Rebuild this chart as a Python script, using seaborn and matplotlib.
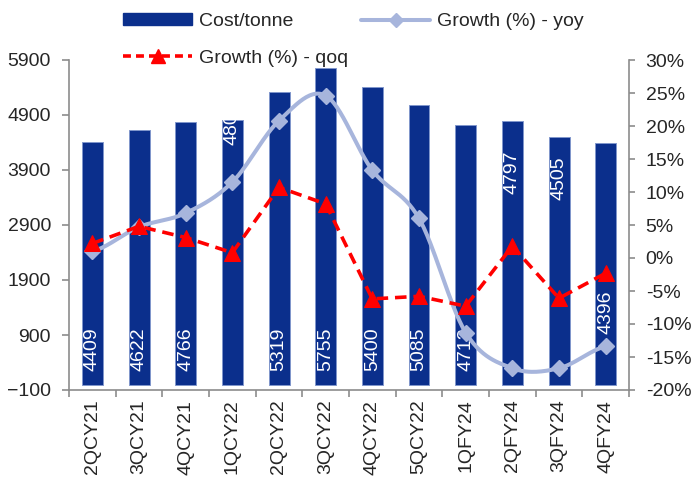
import numpy as np
import matplotlib
matplotlib.use("Agg")
import matplotlib.pyplot as plt
from matplotlib.lines import Line2D
from matplotlib.patches import Patch
from matplotlib.ticker import FixedLocator, FuncFormatter
import seaborn as sns

# Quarterly cost per tonne with year-on-year and quarter-on-quarter growth
quarters = ["2QCY21", "3QCY21", "4QCY21", "1QCY22", "2QCY22", "3QCY22",
            "4QCY22", "5QCY22", "1QFY24", "2QFY24", "3QFY24", "4QFY24"]
cost_per_tonne = [4409, 4622, 4766, 4805, 5319, 5755, 5400, 5085, 4713, 4797, 4505, 4396]
growth_yoy = [1.0, 4.7, 6.8, 11.5, 20.8, 24.6, 13.3, 6.0, -11.3, -16.7, -16.7, -13.4]
growth_qoq = [2.2, 4.8, 3.1, 0.8, 10.7, 8.2, -6.2, -5.8, -7.3, 1.8, -6.1, -2.3]

left_ticks = [-100, 900, 1900, 2900, 3900, 4900, 5900]
right_ticks = [-20, -15, -10, -5, 0, 5, 10, 15, 20, 25, 30]

# where each value label sits along its bar (left-axis units)
label_anchor = [640, 640, 640, 4760, 640, 640, 640, 640, 640, 3855, 3745, 1318]

BAR = "#0B2F8C"
BAR_EDGE = "#8096CC"
YOY = "#A7B5DC"
QOQ = "#FF0000"
SPINE = "#8C8C8C"

sns.set_style("white")
plt.rcParams["font.family"] = ["Liberation Sans", "DejaVu Sans"]
plt.rcParams["font.size"] = 14

fig = plt.figure(figsize=(6.94, 4.79), dpi=100)
ax = fig.add_axes([69 / 694, 89 / 479, 560 / 694, 330 / 479])
ax2 = ax.twinx()

sns.barplot(x=quarters, y=cost_per_tonne, ax=ax, color=BAR, saturation=1,
            width=0.45, edgecolor=BAR_EDGE, linewidth=0.7, zorder=2)

for i, (v, ly) in enumerate(zip(cost_per_tonne, label_anchor)):
    ax.text(i, ly, f"{v}", rotation=90, ha="center", va="center",
            color="white", fontsize=14, zorder=3)


def hermite_curve(values, steps=30):
    """Cardinal (Catmull-Rom) spline through the points, like a smoothed line."""
    y = np.asarray(values, dtype=float)
    n = len(y)
    m = np.empty(n)
    m[1:-1] = (y[2:] - y[:-2]) / 2
    m[0] = (y[1] - y[0]) / 2
    m[-1] = (y[-1] - y[-2]) / 2
    xs, ys = [], []
    t = np.linspace(0, 1, steps)
    h00 = 2 * t**3 - 3 * t**2 + 1
    h10 = t**3 - 2 * t**2 + t
    h01 = -2 * t**3 + 3 * t**2
    h11 = t**3 - t**2
    for i in range(n - 1):
        xs.append(i + t)
        ys.append(h00 * y[i] + h10 * m[i] + h01 * y[i + 1] + h11 * m[i + 1])
    return np.concatenate(xs), np.concatenate(ys)


pos = np.arange(len(quarters))
sx, sy = hermite_curve(growth_yoy)
ax2.plot(sx, sy, color=YOY, lw=2.9, solid_capstyle="round", zorder=3)
ax2.plot(pos, growth_yoy, ls="none", marker="D", ms=8, color=YOY,
         markeredgecolor=YOY, zorder=4)

sns.lineplot(x=pos, y=growth_qoq, ax=ax2, color=QOQ, lw=2.6,
             marker="^", markersize=11, markeredgecolor=QOQ,
             dashes=False, zorder=5)
qline = ax2.get_lines()[-1]
qline.set_linestyle((0, (3.2, 1.9)))

# axes ranges and ticks
ax.set_ylim(-100, 5900)
ax2.set_ylim(-20, 30)
ax.set_xlim(-0.5, len(quarters) - 0.5)
ax2.set_xlim(-0.5, len(quarters) - 0.5)

ax.yaxis.set_major_locator(FixedLocator(left_ticks))
ax2.yaxis.set_major_locator(FixedLocator(right_ticks))
ax2.yaxis.set_major_formatter(FuncFormatter(lambda v, _: f"{v:.0f}%"))

ax.set_xticks(pos)
ax.set_xticklabels(quarters, rotation=90, fontsize=14)
ax.xaxis.set_minor_locator(FixedLocator(np.arange(-0.5, len(quarters), 1.0)))
ax.tick_params(axis="x", which="major", length=0, pad=7)
ax.tick_params(axis="x", which="minor", length=5, width=1.2, color=SPINE,
               direction="out", bottom=True)
ax.tick_params(axis="y", length=5, width=1.2, color=SPINE, direction="out",
               left=True, labelsize=14, pad=8)
ax2.tick_params(axis="y", length=4, width=1.2, color=SPINE, direction="out",
                right=True, labelsize=14, pad=8)
ax.set_xlabel("")
ax.set_ylabel("")
ax2.set_ylabel("")

for a in (ax, ax2):
    a.spines["top"].set_visible(False)
    for s in ("left", "right", "bottom"):
        a.spines[s].set_color(SPINE)
        a.spines[s].set_linewidth(1.2)
ax.spines["right"].set_visible(False)
ax2.spines["left"].set_visible(False)
ax2.spines["bottom"].set_visible(False)
ax.grid(False)
ax2.grid(False)

handles = [
    Patch(facecolor=BAR, edgecolor=BAR),
    Line2D([], [], color=QOQ, lw=2.6, ls=(0, (2.2, 1.4)), marker="^",
           ms=10, markeredgecolor=QOQ),
    Line2D([], [], color=YOY, lw=2.9, marker="D", ms=7, markeredgecolor=YOY),
]
labels = ["Cost/tonne", "Growth (%) - qoq", "Growth (%) - yoy"]
leg = fig.legend(handles, labels, loc="upper left",
                 bbox_to_anchor=(123 / 694, 1 - 13 / 479), ncol=2,
                 frameon=False, fontsize=14, handlelength=3.55,
                 handleheight=0.55, handletextpad=0.36, columnspacing=0.66,
                 labelspacing=1.02, borderpad=0, borderaxespad=0)
leg.set_zorder(10)

fig.savefig("out.png", dpi=100)
